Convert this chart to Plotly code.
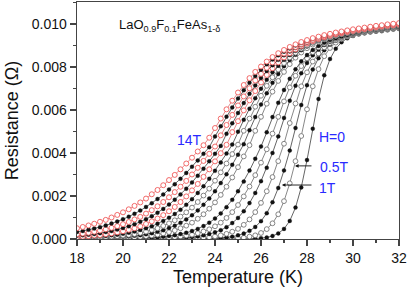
import plotly.graph_objects as go

# Temperature grid (K)
temperature = [18.00, 18.25, 18.50, 18.75, 19.00, 19.25, 19.50, 19.75,
               20.00, 20.25, 20.50, 20.75, 21.00, 21.25, 21.50, 21.75,
               22.00, 22.25, 22.50, 22.75, 23.00, 23.25, 23.50, 23.75,
               24.00, 24.25, 24.50, 24.75, 25.00, 25.25, 25.50, 25.75,
               26.00, 26.25, 26.50, 26.75, 27.00, 27.25, 27.50, 27.75,
               28.00, 28.25, 28.50, 28.75, 29.00, 29.25, 29.50, 29.75,
               30.00, 30.25, 30.50, 30.75, 31.00, 31.25, 31.50, 31.75,
               32.00]

# Resistance (Ohm) for each field
r_0T = [0, 0, 0, 0, 0, 0, 0, 0, 0, 0, 0, 0, 0, 0, 0, 0,
        0, 0, 0, 0, 0, 0, 0, 0, 0, 0, 0, 0,
        0, 0, 0.00001, 0.00002,
        0.00004, 0.00007, 0.00014, 0.00026,
        0.00047, 0.00084, 0.00146, 0.00240,
        0.00367, 0.00513, 0.00651, 0.00761,
        0.00837, 0.00885, 0.00915, 0.00933,
        0.00944, 0.00952, 0.00957, 0.00961,
        0.00965, 0.00968, 0.00972, 0.00975,
        0.00978]
r_05T = [0, 0, 0, 0, 0, 0, 0, 0, 0, 0, 0, 0, 0, 0, 0, 0,
         0, 0, 0, 0, 0, 0, 0, 0,
         0, 0.00001, 0.00001, 0.00002,
         0.00004, 0.00006, 0.00011, 0.00017,
         0.00028, 0.00046, 0.00073, 0.00115,
         0.00176, 0.00259, 0.00362, 0.00479,
         0.00603, 0.00710, 0.00790, 0.00850,
         0.00888, 0.00913, 0.00930, 0.00941,
         0.00948, 0.00954, 0.00959, 0.00963,
         0.00966, 0.00969, 0.00973, 0.00976,
         0.00979]
r_1T = [0, 0, 0, 0, 0, 0, 0, 0, 0, 0, 0, 0, 0, 0, 0, 0,
        0, 0, 0, 0,
        0, 0.00001, 0.00001, 0.00002,
        0.00003, 0.00005, 0.00007, 0.00011,
        0.00017, 0.00025, 0.00038, 0.00056,
        0.00083, 0.00120, 0.00171, 0.00237,
        0.00319, 0.00411, 0.00516, 0.00623,
        0.00715, 0.00788, 0.00841, 0.00878,
        0.00904, 0.00922, 0.00934, 0.00943,
        0.00950, 0.00955, 0.00960, 0.00964,
        0.00967, 0.00970, 0.00974, 0.00977,
        0.00980]
r_2T = [0, 0, 0, 0, 0, 0, 0, 0, 0, 0, 0, 0, 0, 0, 0, 0,
        0, 0.00001, 0.00001, 0.00002,
        0.00003, 0.00004, 0.00006, 0.00008,
        0.00012, 0.00017, 0.00024, 0.00034,
        0.00047, 0.00066, 0.00091, 0.00125,
        0.00168, 0.00222, 0.00288, 0.00362,
        0.00443, 0.00539, 0.00630, 0.00710,
        0.00775, 0.00825, 0.00863, 0.00891,
        0.00911, 0.00925, 0.00936, 0.00944,
        0.00951, 0.00956, 0.00961, 0.00965,
        0.00969, 0.00972, 0.00975, 0.00979,
        0.00982]
r_3T = [0, 0, 0, 0, 0, 0, 0, 0, 0, 0, 0, 0,
        0, 0.00001, 0.00001, 0.00002,
        0.00003, 0.00004, 0.00005, 0.00007,
        0.00009, 0.00012, 0.00017, 0.00023,
        0.00031, 0.00041, 0.00055, 0.00074,
        0.00098, 0.00129, 0.00167, 0.00214,
        0.00269, 0.00331, 0.00400, 0.00477,
        0.00563, 0.00643, 0.00713, 0.00771,
        0.00818, 0.00854, 0.00881, 0.00902,
        0.00917, 0.00929, 0.00939, 0.00946,
        0.00952, 0.00957, 0.00962, 0.00966,
        0.00969, 0.00973, 0.00976, 0.00980,
        0.00983]
r_4T = [0, 0, 0, 0, 0, 0, 0, 0,
        0, 0.00001, 0.00001, 0.00002,
        0.00002, 0.00003, 0.00004, 0.00005,
        0.00007, 0.00009, 0.00012, 0.00016,
        0.00020, 0.00027, 0.00035, 0.00045,
        0.00059, 0.00076, 0.00098, 0.00125,
        0.00158, 0.00198, 0.00244, 0.00297,
        0.00355, 0.00417, 0.00490, 0.00568,
        0.00640, 0.00705, 0.00759, 0.00804,
        0.00840, 0.00869, 0.00891, 0.00908,
        0.00922, 0.00932, 0.00941, 0.00948,
        0.00954, 0.00959, 0.00963, 0.00967,
        0.00971, 0.00975, 0.00978, 0.00981,
        0.00985]
r_5T = [0, 0, 0, 0,
        0, 0.00001, 0.00001, 0.00001,
        0.00002, 0.00002, 0.00003, 0.00004,
        0.00005, 0.00006, 0.00008, 0.00011,
        0.00014, 0.00018, 0.00023, 0.00029,
        0.00037, 0.00047, 0.00060, 0.00076,
        0.00095, 0.00119, 0.00148, 0.00182,
        0.00222, 0.00267, 0.00318, 0.00373,
        0.00430, 0.00496, 0.00567, 0.00633,
        0.00693, 0.00745, 0.00789, 0.00826,
        0.00855, 0.00879, 0.00897, 0.00913,
        0.00925, 0.00934, 0.00942, 0.00949,
        0.00955, 0.00960, 0.00965, 0.00969,
        0.00973, 0.00976, 0.00980, 0.00983,
        0.00986]
r_6T = [0.00001, 0.00001, 0.00001, 0.00002,
        0.00002, 0.00003, 0.00003, 0.00004,
        0.00005, 0.00007, 0.00008, 0.00010,
        0.00013, 0.00016, 0.00020, 0.00026,
        0.00032, 0.00040, 0.00050, 0.00062,
        0.00076, 0.00094, 0.00115, 0.00141,
        0.00170, 0.00205, 0.00243, 0.00286,
        0.00334, 0.00384, 0.00436, 0.00503,
        0.00568, 0.00629, 0.00685, 0.00735,
        0.00777, 0.00813, 0.00843, 0.00867,
        0.00887, 0.00904, 0.00917, 0.00928,
        0.00937, 0.00944, 0.00951, 0.00957,
        0.00962, 0.00966, 0.00970, 0.00974,
        0.00978, 0.00981, 0.00985, 0.00988,
        0.00991]
r_7T = [0.00002, 0.00002, 0.00003, 0.00003,
        0.00004, 0.00005, 0.00006, 0.00008,
        0.00010, 0.00012, 0.00015, 0.00018,
        0.00022, 0.00027, 0.00034, 0.00041,
        0.00051, 0.00062, 0.00075, 0.00091,
        0.00110, 0.00133, 0.00159, 0.00188,
        0.00222, 0.00260, 0.00301, 0.00345,
        0.00392, 0.00441, 0.00506, 0.00567,
        0.00625, 0.00678, 0.00726, 0.00767,
        0.00803, 0.00832, 0.00857, 0.00878,
        0.00895, 0.00910, 0.00921, 0.00931,
        0.00940, 0.00947, 0.00953, 0.00959,
        0.00964, 0.00968, 0.00972, 0.00976,
        0.00980, 0.00983, 0.00987, 0.00990,
        0.00993]
r_8T = [0.00003, 0.00004, 0.00005, 0.00006,
        0.00007, 0.00009, 0.00011, 0.00013,
        0.00016, 0.00019, 0.00023, 0.00028,
        0.00034, 0.00042, 0.00050, 0.00061,
        0.00073, 0.00087, 0.00104, 0.00124,
        0.00146, 0.00172, 0.00202, 0.00234,
        0.00271, 0.00310, 0.00351, 0.00395,
        0.00439, 0.00503, 0.00560, 0.00615,
        0.00666, 0.00712, 0.00752, 0.00788,
        0.00818, 0.00844, 0.00866, 0.00885,
        0.00900, 0.00913, 0.00924, 0.00933,
        0.00941, 0.00948, 0.00954, 0.00959,
        0.00964, 0.00969, 0.00973, 0.00977,
        0.00980, 0.00984, 0.00987, 0.00991,
        0.00994]
r_9T = [0.00006, 0.00007, 0.00008, 0.00010,
        0.00012, 0.00014, 0.00017, 0.00020,
        0.00024, 0.00029, 0.00035, 0.00042,
        0.00050, 0.00059, 0.00071, 0.00084,
        0.00099, 0.00116, 0.00136, 0.00159,
        0.00185, 0.00214, 0.00245, 0.00280,
        0.00317, 0.00356, 0.00397, 0.00439,
        0.00499, 0.00554, 0.00606, 0.00655,
        0.00699, 0.00740, 0.00775, 0.00806,
        0.00833, 0.00855, 0.00875, 0.00891,
        0.00905, 0.00917, 0.00927, 0.00935,
        0.00943, 0.00950, 0.00956, 0.00961,
        0.00966, 0.00970, 0.00974, 0.00978,
        0.00982, 0.00986, 0.00989, 0.00993,
        0.00996]
r_10T = [0.00009, 0.00011, 0.00013, 0.00016,
         0.00018, 0.00022, 0.00026, 0.00031,
         0.00036, 0.00043, 0.00050, 0.00059,
         0.00070, 0.00082, 0.00095, 0.00111,
         0.00129, 0.00149, 0.00172, 0.00198,
         0.00226, 0.00256, 0.00289, 0.00324,
         0.00361, 0.00399, 0.00438, 0.00497,
         0.00548, 0.00598, 0.00645, 0.00688,
         0.00728, 0.00763, 0.00794, 0.00821,
         0.00844, 0.00864, 0.00882, 0.00897,
         0.00909, 0.00920, 0.00930, 0.00938,
         0.00945, 0.00952, 0.00957, 0.00963,
         0.00968, 0.00972, 0.00976, 0.00980,
         0.00984, 0.00988, 0.00991, 0.00994,
         0.00997]
r_11T = [0.00015, 0.00017, 0.00020, 0.00023,
         0.00027, 0.00032, 0.00037, 0.00044,
         0.00051, 0.00059, 0.00069, 0.00080,
         0.00092, 0.00106, 0.00122, 0.00140,
         0.00160, 0.00183, 0.00207, 0.00234,
         0.00263, 0.00294, 0.00327, 0.00361,
         0.00396, 0.00433, 0.00489, 0.00538,
         0.00586, 0.00632, 0.00675, 0.00714,
         0.00749, 0.00781, 0.00808, 0.00833,
         0.00854, 0.00872, 0.00888, 0.00901,
         0.00913, 0.00924, 0.00933, 0.00940,
         0.00947, 0.00954, 0.00959, 0.00965,
         0.00969, 0.00974, 0.00978, 0.00982,
         0.00986, 0.00989, 0.00993, 0.00996,
         0.00999]
r_12T = [0.00022, 0.00025, 0.00029, 0.00034,
         0.00039, 0.00045, 0.00052, 0.00060,
         0.00069, 0.00079, 0.00091, 0.00103,
         0.00118, 0.00134, 0.00152, 0.00172,
         0.00194, 0.00218, 0.00243, 0.00270,
         0.00300, 0.00331, 0.00363, 0.00396,
         0.00430, 0.00482, 0.00530, 0.00577,
         0.00621, 0.00663, 0.00701, 0.00737,
         0.00768, 0.00796, 0.00821, 0.00843,
         0.00862, 0.00879, 0.00893, 0.00906,
         0.00917, 0.00926, 0.00935, 0.00942,
         0.00949, 0.00955, 0.00961, 0.00966,
         0.00970, 0.00975, 0.00979, 0.00983,
         0.00987, 0.00990, 0.00994, 0.00997,
         0.01000]
r_13T = [0.00033, 0.00037, 0.00043, 0.00049,
         0.00055, 0.00063, 0.00072, 0.00081,
         0.00092, 0.00104, 0.00117, 0.00132,
         0.00149, 0.00166, 0.00186, 0.00207,
         0.00230, 0.00254, 0.00280, 0.00307,
         0.00336, 0.00365, 0.00396, 0.00427,
         0.00477, 0.00524, 0.00569, 0.00612,
         0.00653, 0.00692, 0.00727, 0.00758,
         0.00787, 0.00812, 0.00835, 0.00854,
         0.00871, 0.00886, 0.00900, 0.00911,
         0.00921, 0.00930, 0.00938, 0.00945,
         0.00952, 0.00958, 0.00963, 0.00968,
         0.00973, 0.00977, 0.00981, 0.00985,
         0.00989, 0.00992, 0.00996, 0.00999,
         0.01002]
r_14T = [0.00050, 0.00056, 0.00063, 0.00071,
         0.00080, 0.00089, 0.00100, 0.00112,
         0.00124, 0.00138, 0.00154, 0.00170,
         0.00188, 0.00208, 0.00228, 0.00250,
         0.00274, 0.00298, 0.00324, 0.00351,
         0.00378, 0.00407, 0.00436, 0.00471,
         0.00516, 0.00560, 0.00603, 0.00643,
         0.00681, 0.00716, 0.00748, 0.00777,
         0.00802, 0.00825, 0.00846, 0.00864,
         0.00879, 0.00893, 0.00905, 0.00916,
         0.00925, 0.00934, 0.00941, 0.00948,
         0.00954, 0.00960, 0.00965, 0.00970,
         0.00975, 0.00979, 0.00983, 0.00987,
         0.00991, 0.00994, 0.00998, 0.01001,
         0.01004]

fields = ["0T", "0.5T", "1T", "2T", "3T", "4T", "5T", "6T", "7T",
          "8T", "9T", "10T", "11T", "12T", "13T", "14T"]
series = [r_0T, r_05T, r_1T, r_2T, r_3T, r_4T, r_5T, r_6T, r_7T,
          r_8T, r_9T, r_10T, r_11T, r_12T, r_13T, r_14T]
# marker style per curve: filled black, open grey, open red
styles = ["fill", "open", "fill", "open", "fill", "open", "fill", "open", "fill",
          "open", "fill", "red", "fill", "red", "fill", "red"]

x_ticks = [18, 20, 22, 24, 26, 28, 30, 32]
y_ticks = [0.000, 0.002, 0.004, 0.006, 0.008, 0.010]

FONT = "Liberation Sans, Arial, sans-serif"
fig = go.Figure()

for name, r, st in zip(fields, series, styles):
    if st == "fill":
        marker = dict(symbol="circle", size=4.0, color="#111111",
                      line=dict(color="#111111", width=0.3))
        line = dict(color="#222222", width=0.7)
    elif st == "open":
        marker = dict(symbol="circle", size=4.8, color="white",
                      line=dict(color="#777777", width=0.9))
        line = dict(color="#555555", width=0.7)
    else:
        marker = dict(symbol="circle", size=5.0, color="white",
                      line=dict(color="#f05a5a", width=0.9))
        line = dict(color="#d04040", width=0.6)
    fig.add_trace(go.Scatter(x=temperature, y=r, mode="lines+markers",
                             name=name, marker=marker, line=line,
                             showlegend=False, cliponaxis=True))

blue = "#2a2aff"
fig.add_annotation(x=19.74, y=0.00995, xref="x", yref="y",
                   text="LaO<sub>0.9</sub>F<sub>0.1</sub>FeAs<sub>1-δ</sub>",
                   showarrow=False, xanchor="left", yanchor="middle",
                   font=dict(family=FONT, size=13, color="#111111"))
fig.add_annotation(x=22.9, y=0.0046, xref="x", yref="y", text="14T",
                   showarrow=False, font=dict(family=FONT, size=14, color=blue))
fig.add_annotation(x=28.43, y=0.00474, xref="x", yref="y", text="H=0",
                   showarrow=False, xanchor="left",
                   font=dict(family=FONT, size=14, color=blue))
fig.add_annotation(x=28.48, y=0.00335, xref="x", yref="y", text="0.5T",
                   showarrow=False, xanchor="left",
                   font=dict(family=FONT, size=14, color=blue))
fig.add_annotation(x=28.43, y=0.00237, xref="x", yref="y", text="1T",
                   showarrow=False, xanchor="left",
                   font=dict(family=FONT, size=14, color=blue))
# arrows
fig.add_annotation(x=27.48, y=0.0034, ax=28.26, ay=0.0034, xref="x", yref="y",
                   axref="x", ayref="y", text="", showarrow=True,
                   arrowhead=2, arrowsize=0.8, arrowwidth=0.9, arrowcolor="#111111")
fig.add_annotation(x=26.91, y=0.00251, ax=28.26, ay=0.00251, xref="x", yref="y",
                   axref="x", ayref="y", text="", showarrow=True,
                   arrowhead=2, arrowsize=0.8, arrowwidth=0.9, arrowcolor="#111111")

axis_common = dict(showline=True, linecolor="#444444", linewidth=1.4, mirror=True,
                   ticks="outside", ticklen=6, tickwidth=1.2, tickcolor="#444444",
                   showgrid=False, zeroline=False, automargin=False,
                   tickfont=dict(family=FONT, size=14, color="#111111"))

fig.update_xaxes(range=[18, 32], tickvals=x_ticks,
                 ticktext=[str(v) for v in x_ticks],
                 minor=dict(dtick=1, ticks="outside", ticklen=3, tickwidth=1.1,
                            tickcolor="#444444", showgrid=False),
                 title=dict(text="Temperature (K)",
                            font=dict(family=FONT, size=18, color="#111111"),
                            standoff=6),
                 **axis_common)
fig.update_yaxes(range=[0, 0.01102], tickvals=y_ticks,
                 ticktext=["%.3f" % v for v in y_ticks],
                 minor=dict(dtick=0.001, tick0=0, ticks="outside", ticklen=3,
                            tickwidth=1.1, tickcolor="#444444", showgrid=False),
                 title=dict(text="Resistance (Ω)",
                            font=dict(family=FONT, size=18, color="#111111"),
                            standoff=8),
                 **axis_common)

fig.update_layout(width=409, height=287,
                  margin=dict(l=77, r=10, t=2, b=48),
                  plot_bgcolor="white", paper_bgcolor="white",
                  font=dict(family=FONT))

fig.write_html("out.html",
               config={"displayModeBar": False, "staticPlot": True},
               post_script="document.body.style.margin='0';"
                           "document.body.style.overflow='hidden';")
